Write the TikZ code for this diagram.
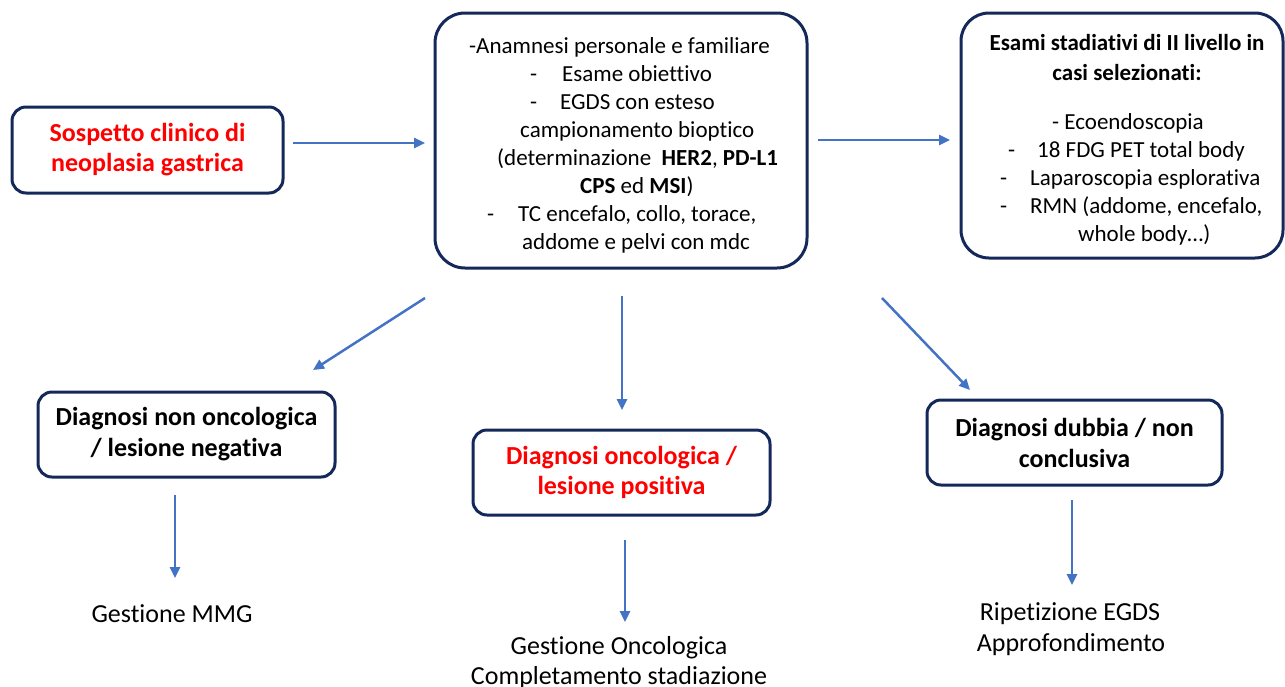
\documentclass[tikz,border=0pt]{standalone}
\usepackage{fontspec}
\setmainfont{Carlito}[Ligatures={NoCommon}]
\usetikzlibrary{arrows.meta}
\definecolor{navy}{RGB}{20,40,90}
\definecolor{arrowblue}{HTML}{4472C4}
\definecolor{tred}{HTML}{FF0000}
\begin{document}
\begin{tikzpicture}[x=1pt,y=-1pt,
  every node/.style={font=\fontsize{23}{28}\selectfont},
  box/.style={draw=navy, line width=3pt, rounded corners=14pt, fill=white, inner sep=0pt, align=center},
  bf/.style={font=\fontsize{23}{28}\selectfont\bfseries},
  big/.style={font=\fontsize{26}{30}\selectfont},
  bigbf/.style={font=\fontsize{26}{30}\selectfont\bfseries},
  conn/.style={draw=arrowblue, line width=2.5pt, -{Triangle[length=11pt,width=10pt]}},
  txt/.style={inner sep=0pt, anchor=base west},
  ctxt/.style={inner sep=0pt, anchor=base}]
\useasboundingbox (0,0) rectangle (1285,686);

% boxes
\node[box, bigbf, minimum width=271pt, minimum height=86pt, text=tred] (sosp) at (147.5,150) {Sospetto clinico di\\neoplasia gastrica};
\node[box, rounded corners=30pt, minimum width=372pt, minimum height=255pt] (main) at (621,140.5) {};
\node[box, rounded corners=28pt, minimum width=322pt, minimum height=245pt] (exam) at (1122,135.5) {};
\node[box, bigbf, minimum width=297pt, minimum height=85pt] (neg) at (186.5,434.5) {Diagnosi non oncologica\\[1pt]/ lesione negativa};
\node[box, bigbf, minimum width=297pt, minimum height=85pt, text=tred] (pos) at (621.5,472.5) {Diagnosi oncologica /\\lesione positiva};
\node[box, bigbf, minimum width=295pt, minimum height=85pt] (dub) at (1074.5,442.5) {Diagnosi dubbia / non\\[1pt]conclusiva};

% main box text
\node[txt] (m1) at (469,53) {-Anamnesi personale e familiare};
\node[txt] (m2d) at (530,81) {-};
\node[txt] (m2) at (562,81) {Esame obiettivo};
\node[txt] (m3d) at (530,109) {-};
\node[txt] (m3) at (560,109) {EGDS con esteso};
\node[txt] (m4) at (520,137) {campionamento bioptico};
\node[txt] (m5) at (497,165) {(determinazione\ \ \textbf{HER2}, \textbf{PD-L1}};
\node[txt] (m6) at (580,193) {\textbf{CPS} ed \textbf{MSI})};
\node[txt] (m7d) at (487,221) {-};
\node[txt] (m7) at (518,221) {TC encefalo, collo, torace,};
\node[txt] (m8) at (522,249) {addome e pelvi con mdc};

% exam box text
\node[ctxt, bf] (e1) at (1127,50) {Esami stadiativi di II livello in};
\node[ctxt, bf] (e2) at (1127,80) {casi selezionati:};
\node[txt] (e3) at (1052,129) {- Ecoendoscopia};
\node[txt] (e4d) at (1008,157) {-};
\node[txt] (e4) at (1037,157) {18 FDG PET total body};
\node[txt] (e5d) at (1000,185) {-};
\node[txt] (e5) at (1030,185) {Laparoscopia esplorativa};
\node[txt] (e6d) at (1000,213) {-};
\node[txt] (e6) at (1030,213) {RMN (addome, encefalo,};
\node[txt] (e7) at (1078,241) {whole body…)};

% outcome texts
\node[ctxt, big] (o1) at (172,622) {Gestione MMG};
\node[ctxt, big] (o2a) at (619,654) {Gestione Oncologica};
\node[ctxt, big] (o2b) at (619,684) {Completamento stadiazione};
\node[ctxt, big] (o3a) at (1070,620) {Ripetizione EGDS};
\node[ctxt, big] (o3b) at (1071,651) {Approfondimento};

% connector end points
\coordinate (a1s) at (293,143); \coordinate (a1e) at (425,143);
\coordinate (a2s) at (818,140); \coordinate (a2e) at (950,140);
\coordinate (a3s) at (425,298); \coordinate (a3e) at (313,370);
\coordinate (a4s) at (622,296); \coordinate (a4e) at (622,410);
\coordinate (a5s) at (882,298); \coordinate (a5e) at (970,390);
\coordinate (a6s) at (175,495); \coordinate (a6e) at (175,578);
\coordinate (a7s) at (625,540); \coordinate (a7e) at (625,622);
\coordinate (a8s) at (1072,500); \coordinate (a8e) at (1072,585);

\draw[conn] (a1s) -- (a1e);
\draw[conn] (a2s) -- (a2e);
\draw[conn] (a3s) -- (a3e);
\draw[conn] (a4s) -- (a4e);
\draw[conn] (a5s) -- (a5e);
\draw[conn] (a6s) -- (a6e);
\draw[conn] (a7s) -- (a7e);
\draw[conn] (a8s) -- (a8e);
\end{tikzpicture}
\end{document}
